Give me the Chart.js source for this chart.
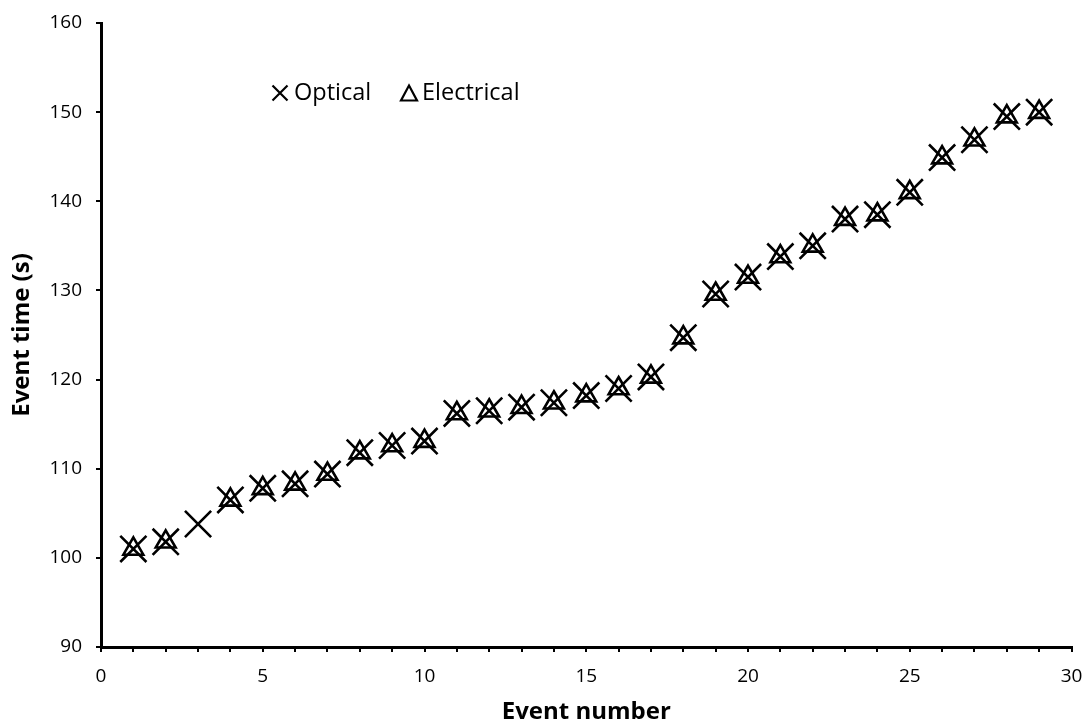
<!DOCTYPE html>
<html>
<head>
<meta charset="utf-8">
<script src="https://cdn.jsdelivr.net/npm/chart.js@4/dist/chart.umd.min.js"></script>
<style>
  html, body { margin: 0; padding: 0; background: #fff; }
  #wrap { width: 1084px; height: 727px; }
</style>
</head>
<body>
<div id="wrap"><canvas id="myChart" width="1084" height="727"></canvas></div>
<script>
const eventNumbers = [1, 2, 3, 4, 5, 6, 7, 8, 9, 10, 11, 12, 13, 14, 15, 16, 17, 18, 19, 20, 21, 22, 23, 24, 25, 26, 27, 28, 29];
const opticalTimes = [101.0, 101.8, 103.8, 106.5, 107.8, 108.3, 109.4, 111.8, 112.6, 113.1, 116.2, 116.5, 116.9, 117.4, 118.2, 119.0, 120.3, 124.7, 129.6, 131.5, 133.8, 135.0, 138.0, 138.5, 141.0, 144.9, 146.9, 149.5, 150.0];
const electricalTimes = [101.0, 101.8, null, 106.5, 107.8, 108.3, 109.4, 111.8, 112.6, 113.1, 116.2, 116.5, 116.9, 117.4, 118.2, 119.0, 120.3, 124.7, 129.6, 131.5, 133.8, 135.0, 138.0, 138.5, 141.0, 144.9, 146.9, 149.5, 150.0];
const seriesLabels = ['Optical', 'Electrical'];
const xTicks = [0, 5, 10, 15, 20, 25, 30];
const yTicks = [90, 100, 110, 120, 130, 140, 150, 160];

const FONT = '"Open Sans", "Noto Sans", sans-serif';

function toPoints(values) {
    const pts = [];
    for (let i = 0; i < eventNumbers.length; i++) {
        if (values[i] !== null) pts.push({ x: eventNumbers[i], y: values[i] });
    }
    return pts;
}

// keep label overhang from shrinking the plot area
function noOverhang(scale) {
    scale.paddingTop = 0;
    scale.paddingBottom = 0;
    scale.paddingLeft = 0;
    scale.paddingRight = 0;
}

// legend drawn inside the plot area
const innerLegend = {
    id: 'innerLegend',
    afterDraw(chart) {
        const ctx = chart.ctx;
        ctx.save();
        ctx.strokeStyle = '#000';
        ctx.fillStyle = '#000';
        ctx.lineWidth = 2.2;
        // cross
        const cx = 280, cy = 93;
        ctx.beginPath();
        ctx.moveTo(cx - 7.5, cy - 7.5); ctx.lineTo(cx + 7.5, cy + 7.5);
        ctx.moveTo(cx + 7.5, cy - 7.5); ctx.lineTo(cx - 7.5, cy + 7.5);
        ctx.stroke();
        // triangle
        const tx = 409, ty = 93;
        ctx.beginPath();
        ctx.moveTo(tx, ty - 7.5); ctx.lineTo(tx + 8, ty + 7.5); ctx.lineTo(tx - 8, ty + 7.5);
        ctx.closePath();
        ctx.stroke();
        ctx.font = '23.5px ' + FONT;
        ctx.textBaseline = 'middle';
        ctx.textAlign = 'left';
        ctx.fillText(seriesLabels[0], 294, cy);
        ctx.fillText(seriesLabels[1], 422, ty);
        ctx.restore();
    }
};

const config = {
    type: 'scatter',
    data: {
        datasets: [{
            label: seriesLabels[0],
            data: toPoints(opticalTimes),
            pointStyle: 'crossRot',
            pointRadius: 18.5,
            pointHoverRadius: 18.5,
            borderColor: '#000',
            backgroundColor: 'rgba(0,0,0,0)',
            pointBorderWidth: 2.6
        }, {
            label: seriesLabels[1],
            data: toPoints(electricalTimes),
            pointStyle: 'triangle',
            pointRadius: 11.5,
            pointHoverRadius: 11.5,
            borderColor: '#000',
            backgroundColor: 'rgba(0,0,0,0)',
            pointBorderWidth: 2.6
        }]
    },
    options: {
        responsive: false,
        animation: false,
        layout: { autoPadding: false, padding: { top: 23, right: 12.5, left: 0, bottom: 0 } },
        plugins: {
            legend: { display: false },
            tooltip: { enabled: false }
        },
        scales: {
            x: {
                type: 'linear',
                min: 0,
                max: 30,
                afterBuildTicks(scale) {
                    const t = [];
                    for (let v = 0; v <= 30; v++) t.push({ value: v });
                    scale.ticks = t;
                },
                afterFit(scale) { scale.height = 80; noOverhang(scale); },
                border: { display: true, color: '#000', width: 3 },
                grid: { drawOnChartArea: false, drawTicks: true, tickLength: 5, color: '#000', lineWidth: 2 },
                ticks: {
                    autoSkip: false,
                    maxRotation: 0,
                    padding: 13,
                    color: '#000',
                    font: { family: FONT, size: 19 },
                    callback: (v) => xTicks.includes(v) ? String(v) : ''
                },
                title: {
                    display: true,
                    text: 'Event number',
                    color: '#000',
                    font: { family: FONT, size: 24, weight: 'bold' },
                    padding: { top: 0, bottom: 0 }
                }
            },
            y: {
                type: 'linear',
                min: 90,
                max: 160,
                afterBuildTicks(scale) {
                    scale.ticks = yTicks.map(v => ({ value: v }));
                },
                afterFit(scale) { scale.width = 101; noOverhang(scale); },
                border: { display: true, color: '#000', width: 3 },
                grid: { drawOnChartArea: false, drawTicks: true, tickLength: 5, color: '#000', lineWidth: 2 },
                ticks: {
                    padding: 14,
                    color: '#000',
                    font: { family: FONT, size: 19 }
                },
                title: {
                    display: true,
                    text: 'Event time (s)',
                    color: '#000',
                    font: { family: FONT, size: 24, weight: 'bold' },
                    padding: { top: 7.5, bottom: 0 }
                }
            }
        }
    },
    plugins: [innerLegend]
};

new Chart(document.getElementById('myChart'), config);
</script>
</body>
</html>
